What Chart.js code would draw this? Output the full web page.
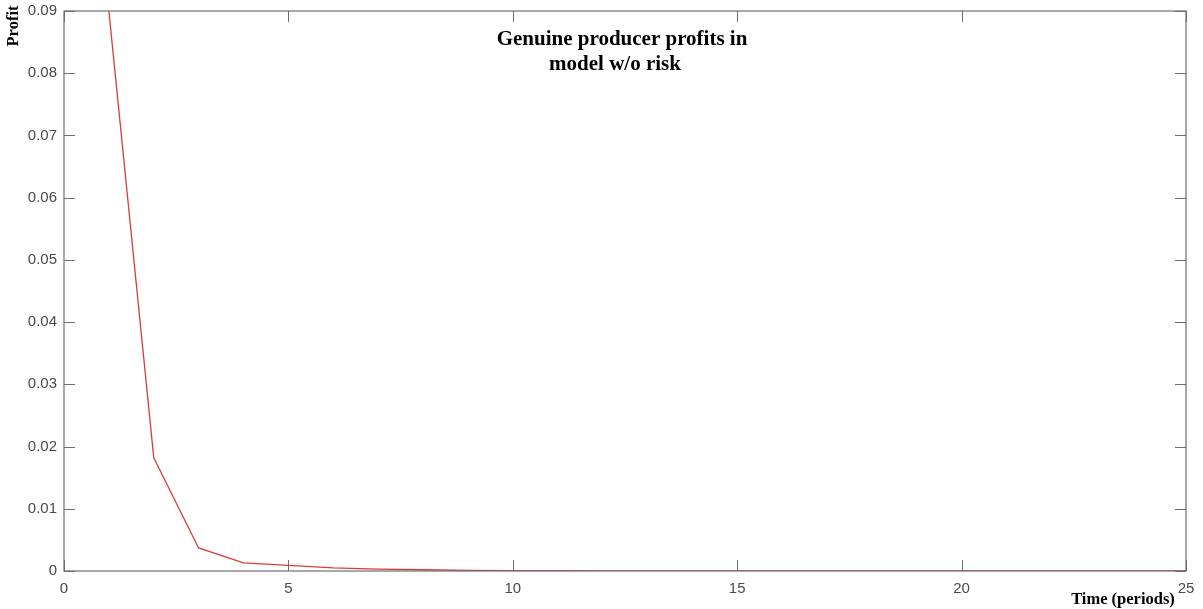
<!DOCTYPE html>
<html>
<head>
<meta charset="utf-8">
<script src="https://cdn.jsdelivr.net/npm/chart.js@4/dist/chart.umd.min.js"></script>
<style>
  html, body { margin: 0; padding: 0; background: #ffffff; }
  #wrap { width: 1203px; height: 609px; position: relative; }
</style>
</head>
<body>
<div id="wrap"><canvas id="c" width="1203" height="609"></canvas></div>
<script>
// Time periods and genuine producer profit per period (model without risk)
const periods = [1, 2, 3, 4, 5, 6, 7, 8, 9, 10, 11, 12, 13, 14, 15, 16, 17, 18, 19, 20, 21, 22, 23, 24, 25];
const profits = [0.0900, 0.0182, 0.0037, 0.0013, 0.0009, 0.0005, 0.0003, 0.0002, 0.0001, 0.00006,
                 0.00004, 0.00003, 0.00002, 0.00001, 0.00001, 0, 0, 0, 0, 0, 0, 0, 0, 0, 0];
const xTicks = [0, 5, 10, 15, 20, 25];
const yTicks = [0, 0.01, 0.02, 0.03, 0.04, 0.05, 0.06, 0.07, 0.08, 0.09];

const titleLines = ['Genuine producer profits in', 'model w/o risk'];
const yTitle = 'Profit';
const xTitle = 'Time (periods)';

const axisColor = '#6e6e6e';
const tickColor = '#4a4a4a';

// Box around the plot area with MATLAB-style inward ticks on all four sides
const boxPlugin = {
  id: 'box',
  afterDatasetsDraw(chart) {
    const { ctx, chartArea: a, scales } = chart;
    const len = 11;
    ctx.save();
    ctx.strokeStyle = axisColor;
    ctx.lineWidth = 1.2;
    ctx.strokeRect(a.left, a.top, a.right - a.left, a.bottom - a.top);
    ctx.lineWidth = 1;
    ctx.beginPath();
    scales.x.ticks.forEach(t => {
      const px = Math.round(scales.x.getPixelForValue(t.value)) + 0.5;
      ctx.moveTo(px, a.bottom); ctx.lineTo(px, a.bottom - len);
      ctx.moveTo(px, a.top); ctx.lineTo(px, a.top + len);
    });
    scales.y.ticks.forEach(t => {
      const py = Math.round(scales.y.getPixelForValue(t.value)) + 0.5;
      ctx.moveTo(a.left, py); ctx.lineTo(a.left + len, py);
      ctx.moveTo(a.right, py); ctx.lineTo(a.right - len, py);
    });
    ctx.stroke();
    ctx.restore();
  },
  afterDraw(chart) {
    const { ctx } = chart;
    ctx.save();
    ctx.fillStyle = '#000000';
    ctx.textBaseline = 'middle';
    // title inside the plot area
    ctx.font = 'bold 21px "Liberation Serif", "Times New Roman", serif';
    ctx.textAlign = 'center';
    ctx.fillText(titleLines[0], 622, 40);
    ctx.fillText(titleLines[1], 615, 65);
    // axis titles
    ctx.font = 'bold 16.5px "Liberation Serif", "Times New Roman", serif';
    ctx.fillText(xTitle, 1123, 600);
    ctx.translate(14, 26);
    ctx.rotate(-Math.PI / 2);
    ctx.fillText(yTitle, 0, 0);
    ctx.restore();
  }
};

new Chart(document.getElementById('c'), {
  type: 'line',
  data: {
    datasets: [{
      data: periods.map((p, i) => ({ x: p, y: profits[i] })),
      borderColor: '#d93a3a',
      borderWidth: 1.3,
      pointRadius: 0,
      tension: 0,
      fill: false
    }]
  },
  options: {
    responsive: false,
    animation: false,
    layout: { padding: { left: 0, top: 11, right: 17, bottom: 0 } },
    plugins: { legend: { display: false }, tooltip: { enabled: false }, title: { display: false } },
    scales: {
      x: {
        type: 'linear',
        min: 0, max: 25,
        afterBuildTicks(scale) { scale.ticks = xTicks.map(v => ({ value: v })); },
        afterFit(scale) { scale.height = 38; scale.paddingLeft = 0; scale.paddingRight = 0; },
        grid: { display: false, drawTicks: false },
        border: { display: false },
        ticks: {
          color: tickColor,
          padding: 9,
          maxRotation: 0,
          font: { family: '"Liberation Sans", Arial, sans-serif', size: 15 },
          callback: v => String(v)
        }
      },
      y: {
        type: 'linear',
        min: 0, max: 0.09,
        afterBuildTicks(scale) { scale.ticks = yTicks.map(v => ({ value: v })); },
        afterFit(scale) { scale.width = 64; scale.paddingTop = 0; scale.paddingBottom = 0; },
        grid: { display: false, drawTicks: false },
        border: { display: false },
        ticks: {
          color: tickColor,
          padding: 7,
          font: { family: '"Liberation Sans", Arial, sans-serif', size: 15 },
          callback: v => (v === 0 ? '0' : Number(v).toFixed(2))
        }
      }
    }
  },
  plugins: [boxPlugin]
});
</script>
</body>
</html>
